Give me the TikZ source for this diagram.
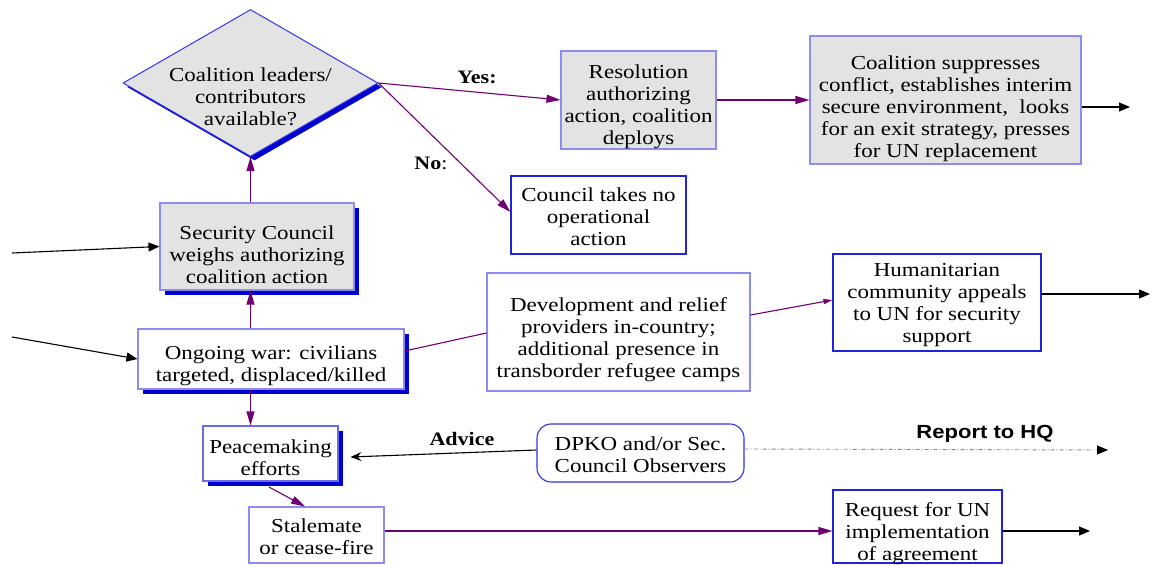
\documentclass[tikz,border=0pt]{standalone}
\usepackage{fontspec}
\setmainfont{Liberation Serif}[FakeStretch=1.16]
\newfontfamily\repfont{Liberation Sans}[FakeStretch=1.16]
\usetikzlibrary{shapes.geometric,arrows.meta,shadows}
\definecolor{boxgray}{HTML}{E3E3E3}
\definecolor{lav}{HTML}{8C8CF0}
\definecolor{bblue}{HTML}{2222DD}
\definecolor{shblue}{HTML}{0000D0}
\definecolor{purp}{HTML}{700070}
\definecolor{dotgray}{HTML}{888888}
\tikzset{
  txt/.style={font=\fontsize{19.8}{22}\selectfont, align=center, inner sep=0pt},
  box/.style={draw, line width=1.1pt, inner sep=0pt, fill=white},
  graybox/.style={box, fill=boxgray, draw=lav},
  lavbox/.style={box, draw=lav},
  bluebox/.style={box, draw=bblue},
  shad/.style={drop shadow={shadow xshift=5pt, shadow yshift=-5pt, fill=shblue, opacity=1}},
  parrow/.style={draw=purp, line width=1.1pt, -{Triangle[length=14pt,width=8pt]}, purp},
  pline/.style={draw=purp, line width=1.1pt},
  barrow/.style={draw=black, line width=1.1pt, -{Triangle[length=11pt,width=9pt]}},
  lbl/.style={font=\fontsize{19}{21}\selectfont\bfseries},
}
% #1 style, #2 name, #3 centre, #4 width, #5 height, #6 text shift down, #7 text
\newcommand\mkbox[7]{%
  \node[#1, minimum width=#4pt, minimum height=#5pt] (#2) at (#3) {};
  \node[txt] (#2-t) at ([yshift=-#6pt]#2.center) {#7};
}
\begin{document}
\begin{tikzpicture}[x=1pt,y=-1pt]
\useasboundingbox (0,0) rectangle (1152,565);
% diamond
\node[diamond, minimum width=255pt, minimum height=147pt, inner sep=0pt,
  draw=bblue!80!lav, line width=1pt, fill=boxgray,
  drop shadow={shadow xshift=4pt, shadow yshift=-4pt, fill=shblue, opacity=1}] (dia) at (250.5,83) {};
\node[txt] (diat) at (250.5,97) {Coalition leaders/\\contributors\\available?};
% boxes
\mkbox{graybox}{res}{638.5,100}{155}{98}{7}{Resolution\\authorizing\\action, coalition\\deploys}
\mkbox{graybox}{coa}{945.5,100}{271}{128}{9}{Coalition suppresses\\conflict, establishes interim\\secure environment,\ \ looks\\for an exit strategy, presses\\for UN replacement}
\mkbox{bluebox}{cou}{598.5,215}{175}{78}{2}{Council takes no\\operational\\action}
\mkbox{graybox,shad}{sc}{257,246.5}{194}{87}{8}{Security Council\\weighs authorizing\\coalition action}
\mkbox{lavbox,shad}{on}{271,359}{266}{60}{6.5}{Ongoing war: civilians\\targeted, displaced/killed}
\mkbox{lavbox}{dev}{618.5,332}{263}{118}{8}{Development and relief\\providers in-country;\\additional presence in\\transborder refugee camps}
\mkbox{bluebox}{hum}{937,302.5}{208}{97}{3}{Humanitarian\\community appeals\\to UN for security\\support}
\mkbox{lavbox,draw=lav!70!bblue,shad}{pm}{270.5,453.5}{135}{55}{4}{Peacemaking\\efforts}
\mkbox{box,draw=bblue!85!lav,rounded corners=14pt}{dp}{640.5,453}{207}{58}{2}{DPKO and/or Sec.\\Council Observers}
\mkbox{lavbox}{st}{316.5,535}{135}{56}{1.5}{Stalemate\\or cease-fire}
\mkbox{bluebox}{rq}{917.5,526.5}{169}{73}{7}{Request for UN\\implementation\\of agreement}
% free ends
\coordinate (inA) at (12,253);
\coordinate (inB) at (12,337);
\coordinate (outA) at (1130,107);
\coordinate (outB) at (1150,294);
\coordinate (outC) at (1108,450);
\coordinate (outD) at (1090,531);
% connectors
\draw[parrow] (dia.south |- sc.north) -- (dia.south);
\draw[parrow] (dia.south |- on.north) -- (dia.south |- sc.south);
\draw[parrow] (dia.south |- on.south) -- (dia.south |- pm.north);
\draw[parrow] ([xshift=-1.5pt,yshift=-5.5pt]pm.south) -- ([xshift=-11.5pt]st.north);
\draw[parrow] (dia.east) -- (res.west);
\draw[parrow] (dia.east) -- ([yshift=3pt]cou.west);
\draw[parrow] (res.east) -- (coa.west);
\draw[barrow] ([yshift=-7pt]coa.east) -- (outA);
\draw[barrow] (inA) -- (sc.west);
\draw[barrow] (inB) -- (on.west);
\draw[pline] ([yshift=8pt]on.east) -- ([yshift=-1pt]dev.west);
\draw[draw=purp, line width=1.1pt, -{Triangle[length=9pt,width=5pt]}, purp] ([yshift=17pt]dev.east) -- ([yshift=2.5pt]hum.west);
\draw[barrow] ([yshift=8.5pt]hum.east) -- (outB);
\draw[draw=black, line width=1.1pt, -{Stealth[length=11pt,width=9pt,inset=4pt]}] ([yshift=3pt]dp.west) -- ([xshift=12pt,yshift=-3.5pt]pm.east);
\draw[draw=dotgray, line width=0.9pt, dash pattern=on 4pt off 2pt on 1pt off 2pt, -{Triangle[length=11pt,width=9pt,black]}] ([yshift=4pt]dp.east) -- (outC);
\draw[parrow] ([yshift=4pt]st.east) -- ([yshift=-4.5pt]rq.west);
\draw[barrow] ([yshift=-4.5pt]rq.east) -- (outD);
% labels
\node[lbl] (yes) at (477,77) {Yes:};
\node[lbl] (no) at (431,163) {No\textmd{:}};
\node[lbl] (adv) at (462,439) {Advice};
\node[font=\repfont\fontsize{19}{21}\selectfont\bfseries] (rep) at (985,434) {Report to HQ};
\end{tikzpicture}
\end{document}
